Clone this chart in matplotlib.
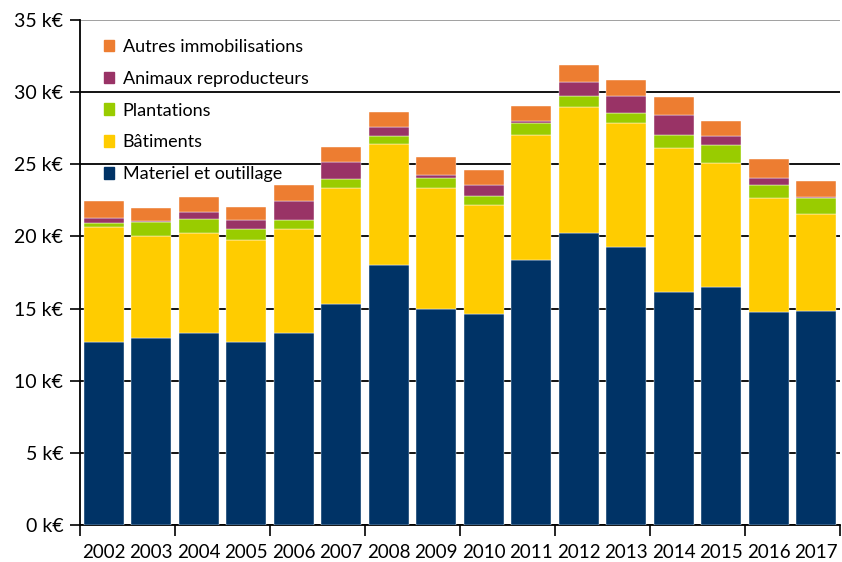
import numpy as np
import matplotlib
matplotlib.use("Agg")
from matplotlib import pyplot as plt
from matplotlib.patches import Patch

# Data (k€)
years = ["2002", "2003", "2004", "2005", "2006", "2007", "2008", "2009",
         "2010", "2011", "2012", "2013", "2014", "2015", "2016", "2017"]
materiel = [12.7, 12.95, 13.33, 12.7, 13.33, 15.34, 18.0, 14.95,
            14.62, 18.4, 20.21, 19.29, 16.17, 16.47, 14.76, 14.85]
batiments = [7.95, 7.05, 6.9, 7.03, 7.18, 8.04, 8.42, 8.43,
             7.56, 8.63, 8.73, 8.55, 9.93, 8.62, 7.9, 6.7]
plantations = [0.28, 1.0, 1.0, 0.78, 0.61, 0.58, 0.51, 0.69,
               0.62, 0.81, 0.81, 0.71, 0.9, 1.22, 0.9, 1.11]
animaux = [0.37, 0.05, 0.48, 0.61, 1.33, 1.22, 0.67, 0.21,
           0.76, 0.18, 0.97, 1.2, 1.41, 0.67, 0.51, 0.09]
autres = [1.15, 0.95, 1.04, 0.92, 1.11, 1.02, 1.02, 1.22,
          1.04, 1.02, 1.16, 1.11, 1.23, 1.04, 1.31, 1.11]

series_names = ["Materiel et outillage", "Bâtiments", "Plantations",
                "Animaux reproducteurs", "Autres immobilisations"]
series_colors = ["#003366", "#FFCC00", "#99CC00", "#993366", "#ED7D31"]
y_ticks = [0, 5, 10, 15, 20, 25, 30, 35]

plt.rcParams['font.family'] = ['Lato', 'DejaVu Sans']

fig = plt.figure(figsize=(8.42, 5.62), dpi=100)
ax = fig.add_axes([80 / 842, 37 / 562, 760 / 842, 505 / 562])

x = np.arange(len(years))
bottom = np.zeros(len(years))
for values, name, color in zip([materiel, batiments, plantations, animaux, autres],
                               series_names, series_colors):
	ax.bar(x, values, width=0.84, bottom=bottom, color=color, label=name,
	       zorder=3, edgecolor="white", linewidth=0.3)
	bottom += np.array(values)

ax.set_xlim(-0.5, len(years) - 0.5)
ax.set_ylim(0, 35)
ax.set_yticks(y_ticks)
ax.set_yticklabels([str(t) + " k€" for t in y_ticks], fontsize=14)
ax.yaxis.grid(True, color="black", linewidth=1.3, zorder=0)
ax.get_ygridlines()[-1].set_color("#999999")
ax.tick_params(axis="y", length=7, width=1.2, color="black", pad=5)

# category ticks every two years on the boundaries, labels at bar centres
ax.set_xticks(np.arange(-0.5, len(years), 2))
ax.set_xticklabels([])
ax.tick_params(axis="x", which="major", length=8, width=1.2)
ax.set_xticks(x, minor=True)
ax.set_xticklabels(years, minor=True, fontsize=13.5)
ax.tick_params(axis="x", which="minor", length=0, pad=14)

for side in ["top", "right"]:
	ax.spines[side].set_visible(False)
ax.spines["left"].set_linewidth(1.3)
ax.spines["bottom"].set_linewidth(1.3)

handles = [Patch(color=c, label=n) for c, n in zip(series_colors, series_names)][::-1]
ax.legend(handles=handles, loc="upper left", bbox_to_anchor=(0.01, 0.995),
          frameon=False, fontsize=13, handlelength=0.55, handleheight=0.6,
          handletextpad=0.5, labelspacing=0.88)

fig.savefig("out.png", dpi=100)
